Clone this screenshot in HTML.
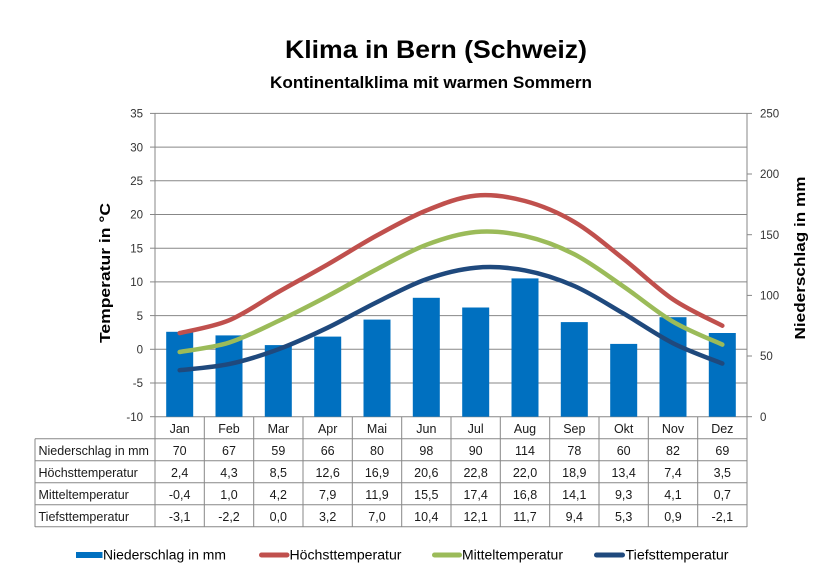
<!DOCTYPE html>
<html><head><meta charset="utf-8"><style>
html,body{margin:0;padding:0;background:#fff;}
svg{display:block;}
text{font-family:"Liberation Sans",Arial,sans-serif;}
</style></head><body>
<svg width="838" height="579" viewBox="0 0 838 579" xmlns="http://www.w3.org/2000/svg">
<rect width="838" height="579" fill="#fff"/>
<!-- titles -->
<text x="436" y="58" font-size="25" font-weight="bold" text-anchor="middle" textLength="302" lengthAdjust="spacingAndGlyphs" fill="#000">Klima in Bern (Schweiz)</text>
<text x="431" y="88" font-size="17" font-weight="bold" text-anchor="middle" textLength="322" lengthAdjust="spacingAndGlyphs" fill="#000">Kontinentalklima mit warmen Sommern</text>
<!-- gridlines -->
<g stroke="#878787" stroke-width="1">
<line x1="155" y1="113.4" x2="747" y2="113.4"/>
<line x1="155" y1="147.1" x2="747" y2="147.1"/>
<line x1="155" y1="180.8" x2="747" y2="180.8"/>
<line x1="155" y1="214.5" x2="747" y2="214.5"/>
<line x1="155" y1="248.2" x2="747" y2="248.2"/>
<line x1="155" y1="281.9" x2="747" y2="281.9"/>
<line x1="155" y1="315.6" x2="747" y2="315.6"/>
<line x1="155" y1="349.3" x2="747" y2="349.3"/>
<line x1="155" y1="383.0" x2="747" y2="383.0"/>
<!-- left ticks -->
<line x1="150" y1="113.4" x2="155" y2="113.4"/>
<line x1="150" y1="147.1" x2="155" y2="147.1"/>
<line x1="150" y1="180.8" x2="155" y2="180.8"/>
<line x1="150" y1="214.5" x2="155" y2="214.5"/>
<line x1="150" y1="248.2" x2="155" y2="248.2"/>
<line x1="150" y1="281.9" x2="155" y2="281.9"/>
<line x1="150" y1="315.6" x2="155" y2="315.6"/>
<line x1="150" y1="349.3" x2="155" y2="349.3"/>
<line x1="150" y1="383.0" x2="155" y2="383.0"/>
<line x1="150" y1="416.7" x2="155" y2="416.7"/>
<!-- right ticks -->
<line x1="747" y1="113.4" x2="752" y2="113.4"/>
<line x1="747" y1="174.0" x2="752" y2="174.0"/>
<line x1="747" y1="234.7" x2="752" y2="234.7"/>
<line x1="747" y1="295.4" x2="752" y2="295.4"/>
<line x1="747" y1="356.0" x2="752" y2="356.0"/>
<line x1="747" y1="416.7" x2="752" y2="416.7"/>
<!-- axes -->
<line x1="155" y1="113.4" x2="155" y2="527"/>
<line x1="747" y1="113.4" x2="747" y2="527"/>
<!-- table -->
<line x1="155" y1="416.7" x2="747" y2="416.7"/>
<line x1="35" y1="438.7" x2="747" y2="438.7"/>
<line x1="35" y1="460.7" x2="747" y2="460.7"/>
<line x1="35" y1="482.7" x2="747" y2="482.7"/>
<line x1="35" y1="504.7" x2="747" y2="504.7"/>
<line x1="35" y1="526.7" x2="747" y2="526.7"/>
<line x1="35" y1="438.7" x2="35" y2="527"/>
<line x1="204.3" y1="416.7" x2="204.3" y2="527"/>
<line x1="253.7" y1="416.7" x2="253.7" y2="527"/>
<line x1="303" y1="416.7" x2="303" y2="527"/>
<line x1="352.3" y1="416.7" x2="352.3" y2="527"/>
<line x1="401.7" y1="416.7" x2="401.7" y2="527"/>
<line x1="451" y1="416.7" x2="451" y2="527"/>
<line x1="500.3" y1="416.7" x2="500.3" y2="527"/>
<line x1="549.7" y1="416.7" x2="549.7" y2="527"/>
<line x1="599" y1="416.7" x2="599" y2="527"/>
<line x1="648.3" y1="416.7" x2="648.3" y2="527"/>
<line x1="697.7" y1="416.7" x2="697.7" y2="527"/>
</g>
<!-- bars -->
<g fill="#0070C0">
<rect x="166.2" y="331.8" width="27" height="84.9"/>
<rect x="215.5" y="335.4" width="27" height="81.3"/>
<rect x="264.8" y="345.1" width="27" height="71.6"/>
<rect x="314.2" y="336.6" width="27" height="80.1"/>
<rect x="363.5" y="319.6" width="27" height="97.1"/>
<rect x="412.8" y="297.8" width="27" height="118.9"/>
<rect x="462.2" y="307.5" width="27" height="109.2"/>
<rect x="511.5" y="278.4" width="27" height="138.3"/>
<rect x="560.8" y="322.1" width="27" height="94.6"/>
<rect x="610.2" y="343.9" width="27" height="72.8"/>
<rect x="659.5" y="317.2" width="27" height="99.5"/>
<rect x="708.8" y="333.0" width="27" height="83.7"/>
</g>
<!-- lines -->
<g fill="none" stroke-width="4.5" stroke-linecap="round" stroke-linejoin="round">
<path stroke="#C0504D" d="M179.67,333.1 C187.89,330.97 212.56,327.15 229,320.3 C245.44,313.45 261.89,301.32 278.33,292.0 C294.77,282.68 311.23,273.83 327.67,264.4 C344.11,254.97 360.56,244.38 377,235.4 C393.44,226.42 409.89,217.13 426.33,210.5 C442.77,203.87 459.23,197.18 475.67,195.6 C492.11,194.02 508.56,196.62 525,201.0 C541.44,205.38 557.89,212.23 574.33,221.9 C590.77,231.57 607.23,246.08 623.67,259.0 C640.11,271.92 656.56,288.28 673,299.4 C689.44,310.52 714.11,321.32 722.33,325.7"/>
<path stroke="#9BBB59" d="M179.67,352.0 C187.89,350.43 212.56,347.77 229,342.6 C245.44,337.43 261.89,328.75 278.33,321.0 C294.77,313.25 311.23,304.75 327.67,296.1 C344.11,287.45 360.56,277.65 377,269.1 C393.44,260.55 409.89,250.98 426.33,244.8 C442.77,238.62 459.23,233.45 475.67,232.0 C492.11,230.55 508.56,232.38 525,236.1 C541.44,239.82 557.89,245.88 574.33,254.3 C590.77,262.72 607.23,275.37 623.67,286.6 C640.11,297.83 656.56,312.03 673,321.7 C689.44,331.37 714.11,340.78 722.33,344.6"/>
<path stroke="#1F497D" d="M179.67,370.2 C187.89,369.18 212.56,367.58 229,364.1 C245.44,360.62 261.89,355.37 278.33,349.3 C294.77,343.23 311.23,335.57 327.67,327.7 C344.11,319.83 360.56,310.18 377,302.1 C393.44,294.02 409.89,284.93 426.33,279.2 C442.77,273.47 459.23,269.17 475.67,267.7 C492.11,266.23 508.56,267.35 525,270.4 C541.44,273.45 557.89,278.8 574.33,286.0 C590.77,293.2 607.23,304.07 623.67,313.6 C640.11,323.13 656.56,334.88 673,343.2 C689.44,351.52 714.11,360.12 722.33,363.5"/>
</g>
<!-- left axis labels -->
<g font-size="11.5" fill="#333" text-anchor="end">
<text x="143" y="117.6">35</text>
<text x="143" y="151.3">30</text>
<text x="143" y="185">25</text>
<text x="143" y="218.7">20</text>
<text x="143" y="252.4">15</text>
<text x="143" y="286.1">10</text>
<text x="143" y="319.8">5</text>
<text x="143" y="353.5">0</text>
<text x="143" y="387.2">-5</text>
<text x="143" y="420.9">-10</text>
</g>
<!-- right axis labels -->
<g font-size="11.5" fill="#333">
<text x="760" y="117.6">250</text>
<text x="760" y="178.2">200</text>
<text x="760" y="238.9">150</text>
<text x="760" y="299.6">100</text>
<text x="760" y="360.2">50</text>
<text x="760" y="420.9">0</text>
</g>
<!-- axis titles -->
<text transform="translate(110,273) rotate(-90)" font-size="15" font-weight="bold" text-anchor="middle" textLength="140" lengthAdjust="spacingAndGlyphs" fill="#000">Temperatur  in  °C</text>
<text transform="translate(805,258) rotate(-90)" font-size="15" font-weight="bold" text-anchor="middle" textLength="163" lengthAdjust="spacingAndGlyphs" fill="#000">Niederschlag  in  mm</text>
<!-- table text -->
<g font-size="12.5" fill="#1a1a1a" text-anchor="middle">
<text x="179.67" y="433">Jan</text><text x="229" y="433">Feb</text><text x="278.33" y="433">Mar</text><text x="327.67" y="433">Apr</text><text x="377" y="433">Mai</text><text x="426.33" y="433">Jun</text><text x="475.67" y="433">Jul</text><text x="525" y="433">Aug</text><text x="574.33" y="433">Sep</text><text x="623.67" y="433">Okt</text><text x="673" y="433">Nov</text><text x="722.33" y="433">Dez</text>
<text x="179.67" y="455">70</text><text x="229" y="455">67</text><text x="278.33" y="455">59</text><text x="327.67" y="455">66</text><text x="377" y="455">80</text><text x="426.33" y="455">98</text><text x="475.67" y="455">90</text><text x="525" y="455">114</text><text x="574.33" y="455">78</text><text x="623.67" y="455">60</text><text x="673" y="455">82</text><text x="722.33" y="455">69</text>
<text x="179.67" y="477">2,4</text><text x="229" y="477">4,3</text><text x="278.33" y="477">8,5</text><text x="327.67" y="477">12,6</text><text x="377" y="477">16,9</text><text x="426.33" y="477">20,6</text><text x="475.67" y="477">22,8</text><text x="525" y="477">22,0</text><text x="574.33" y="477">18,9</text><text x="623.67" y="477">13,4</text><text x="673" y="477">7,4</text><text x="722.33" y="477">3,5</text>
<text x="179.67" y="499">-0,4</text><text x="229" y="499">1,0</text><text x="278.33" y="499">4,2</text><text x="327.67" y="499">7,9</text><text x="377" y="499">11,9</text><text x="426.33" y="499">15,5</text><text x="475.67" y="499">17,4</text><text x="525" y="499">16,8</text><text x="574.33" y="499">14,1</text><text x="623.67" y="499">9,3</text><text x="673" y="499">4,1</text><text x="722.33" y="499">0,7</text>
<text x="179.67" y="521">-3,1</text><text x="229" y="521">-2,2</text><text x="278.33" y="521">0,0</text><text x="327.67" y="521">3,2</text><text x="377" y="521">7,0</text><text x="426.33" y="521">10,4</text><text x="475.67" y="521">12,1</text><text x="525" y="521">11,7</text><text x="574.33" y="521">9,4</text><text x="623.67" y="521">5,3</text><text x="673" y="521">0,9</text><text x="722.33" y="521">-2,1</text>
</g>
<g font-size="12.5" fill="#1a1a1a">
<text x="38.5" y="455">Niederschlag in mm</text>
<text x="38.5" y="477">Höchsttemperatur</text>
<text x="38.5" y="499">Mitteltemperatur</text>
<text x="38.5" y="521">Tiefsttemperatur</text>
</g>
<!-- legend -->
<rect x="76" y="552" width="26.5" height="6" fill="#0070C0"/>
<g stroke-width="5" stroke-linecap="round">
<line x1="261.5" y1="555" x2="287" y2="555" stroke="#C0504D"/>
<line x1="434.5" y1="555" x2="459.5" y2="555" stroke="#9BBB59"/>
<line x1="596.5" y1="555" x2="622.5" y2="555" stroke="#1F497D"/>
</g>
<g font-size="13.5" fill="#000">
<text x="103" y="559.5" textLength="123" lengthAdjust="spacingAndGlyphs">Niederschlag in mm</text>
<text x="289.5" y="559.5" textLength="112" lengthAdjust="spacingAndGlyphs">Höchsttemperatur</text>
<text x="462" y="559.5" textLength="101" lengthAdjust="spacingAndGlyphs">Mitteltemperatur</text>
<text x="625.5" y="559.5" textLength="103" lengthAdjust="spacingAndGlyphs">Tiefsttemperatur</text>
</g>
</svg>
</body></html>
